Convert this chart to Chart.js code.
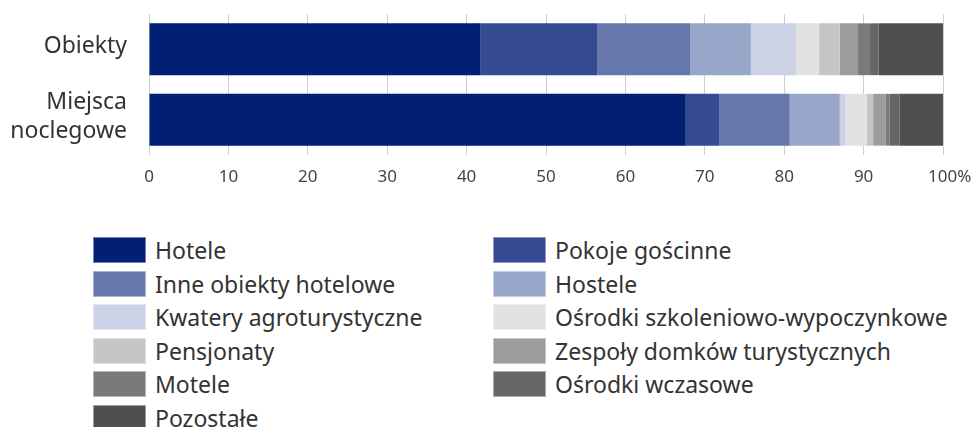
<!DOCTYPE html>
<html>
<head>
<meta charset="utf-8">
<script src="https://cdn.jsdelivr.net/npm/chart.js@4/dist/chart.umd.min.js"></script>
<style>
  html, body { margin: 0; padding: 0; background: #fff; }
  body { width: 974px; height: 427px; position: relative; overflow: hidden; font-family: "Noto Sans", sans-serif; color: #333; }
  #wrap { position: absolute; left: 0; top: 0; width: 974px; height: 200px; }
  #legend { position: absolute; left: 93px; top: 237px; display: grid; grid-template-columns: 400px 440px; grid-auto-rows: 33.6px; }
  .item { display: flex; align-items: center; height: 26px; font-size: 23px; white-space: nowrap; }
  .sw { width: 53px; height: 26px; margin-right: 9px; box-sizing: border-box; border: 1px solid rgba(255,255,255,0.45); flex: none; }
</style>
</head>
<body>
<div id="wrap"><canvas id="c"></canvas></div>
<div id="legend"></div>
<script>
const categories = [["Obiekty"], ["Miejsca", "noclegowe"]];
const seriesNames = [
  "Hotele", "Pokoje gościnne", "Inne obiekty hotelowe", "Hostele",
  "Kwatery agroturystyczne", "Ośrodki szkoleniowo-wypoczynkowe", "Pensjonaty",
  "Zespoły domków turystycznych", "Motele", "Ośrodki wczasowe", "Pozostałe"
];
// percent shares: [Obiekty, Miejsca noclegowe]
const hotele = [41.7, 67.6];
const pokojeGoscinne = [14.8, 4.2];
const inneHotelowe = [11.7, 8.9];
const hostele = [7.6, 6.3];
const kwateryAgro = [5.7, 0.7];
const osrodkiSzkol = [2.9, 2.7];
const pensjonaty = [2.6, 0.8];
const zespolyDomkow = [2.3, 1.6];
const motele = [1.4, 0.5];
const osrodkiWczasowe = [1.2, 1.2];
const pozostale = [8.1, 5.5];
const xTicks = [0, 10, 20, 30, 40, 50, 60, 70, 80, 90, 100];

const seriesValues = [hotele, pokojeGoscinne, inneHotelowe, hostele, kwateryAgro,
  osrodkiSzkol, pensjonaty, zespolyDomkow, motele, osrodkiWczasowe, pozostale];
const colors = ["#011f73", "#344a92", "#6577ab", "#98a6c9", "#ccd2e5",
  "#e2e2e2", "#c4c5c4", "#9b9c9b", "#7a7a7a", "#666666", "#4f4f4d"];

const datasets = seriesNames.map((name, i) => ({
  label: name,
  data: seriesValues[i],
  backgroundColor: colors[i],
  borderWidth: 0,
  barPercentage: 0.735,
  categoryPercentage: 1.0
}));

new Chart(document.getElementById('c'), {
  type: 'bar',
  data: { labels: categories, datasets },
  options: {
    indexAxis: 'y',
    responsive: true,
    maintainAspectRatio: false,
    animation: false,
    layout: { padding: { top: 14, right: 31, left: 0, bottom: 0 } },
    plugins: { legend: { display: false }, tooltip: { enabled: false } },
    scales: {
      x: {
        stacked: true, min: 0, max: 100,
        afterBuildTicks: (s) => { s.ticks = xTicks.map(v => ({ value: v })); },
        afterFit: (s) => { s.height = 45; s.paddingLeft = 0; s.paddingRight = 0; },
        border: { display: false },
        grid: { color: '#cfcfcf', lineWidth: 1, drawTicks: false },
        ticks: {
          padding: 12, color: '#444',
          font: { family: 'Noto Sans', size: 17 },
          maxRotation: 0,
          callback: (v) => v === 100 ? '   100%' : String(v)
        }
      },
      y: {
        stacked: true,
        afterFit: (s) => { s.width = 149; s.paddingTop = 0; s.paddingBottom = 0; },
        border: { display: false },
        grid: { display: false, drawTicks: false },
        ticks: {
          padding: 22, color: '#333', labelOffset: -3,
          font: { family: 'Noto Sans', size: 23, lineHeight: 1.26 }
        }
      }
    }
  }
});

const leg = document.getElementById('legend');
seriesNames.forEach((name, i) => {
  const d = document.createElement('div');
  d.className = 'item';
  const s = document.createElement('span');
  s.className = 'sw';
  s.style.background = colors[i];
  const t = document.createElement('span');
  t.textContent = name;
  d.appendChild(s); d.appendChild(t);
  leg.appendChild(d);
});
</script>
</body>
</html>
